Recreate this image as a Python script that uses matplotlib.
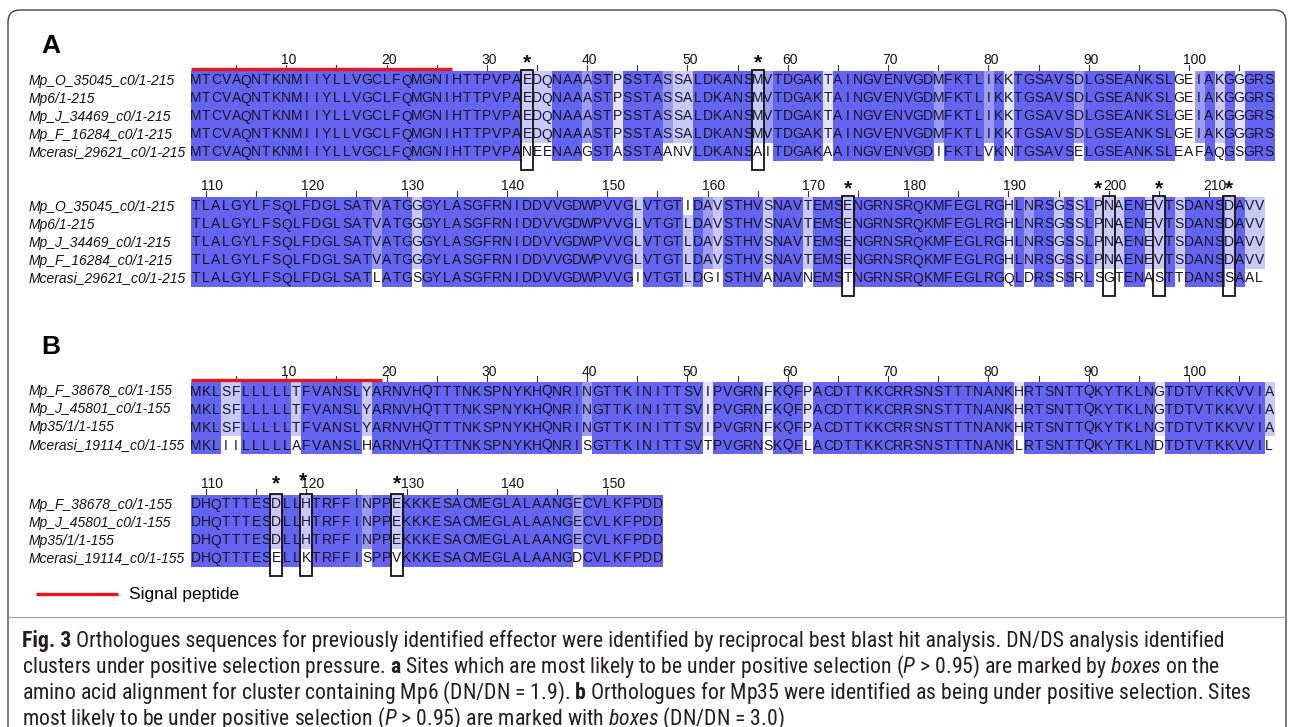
import matplotlib as mpl
mpl.use('Agg')
import matplotlib.pyplot as plt
from matplotlib import font_manager
from matplotlib.patches import FancyBboxPatch
from collections import Counter
import numpy as np

# ---------------- data ----------------
# panel A: cluster containing Mp6
a_names = ['Mp_O_35045_c0/1-215', 'Mp6/1-215', 'Mp_J_34469_c0/1-215',
           'Mp_F_16284_c0/1-215', 'Mcerasi_29621_c0/1-215']
a_block1 = 'MTCVAQNTKNMIIYLLVGCLFQMGNIHTTPVPAEDQNAAASTPSSTASSALDKANSMVTDGAKTAINGVENVGDMFKTLIKKTGSAVSDLGSEANKSLGEIAKGGGRS'
a_seqs = [
    a_block1 + 'TLALGYLFSQLFDGLSATVATGGGYLASGFRNIDDVVGDWPVVGLVTGTIDAVSTHVSNAVTEMSENGRNSRQKMFEGLRGHLNRSGSSLPNAENEVTSDANSDAVV',
    a_block1 + 'TLALGYLFSQLFDGLSATVATGGGYLASGFRNIDDVVGDWPVVGLVTGTLDAVSTHVSNAVTEMSENGRNSRQKMFEGLRGHLNRSGSSLPNAENEVTSDANSDAVV',
    a_block1 + 'TLALGYLFSQLFDGLSATVATGGGYLASGFRNIDDVVGDWPVVGLVTGTLDAVSTHVSNAVTEMSENGRNSRQKMFEGLRGHLNRSGSSLPNAENEVTSDANSDAVV',
    a_block1 + 'TLALGYLFSQLFDGLSATVATGGGYLASGFRNIDDVVGDWPVVGLVTGTLDAVSTHVSNAVTEMSENGRNSRQKMFEGLRGHLNRSGSSLPNAENEVTSDANSDAVV',
    'MTCVAQNTKNMIIYLLVGCLFQMGNIHTTPVPANEENAAGSTASSTAANVLDKANSAITDGAKAAINGVENVGDIFKTLVKNTGSAVSELGSEANKSLEAFAQGSGRS'
    'TLALGYLFSQLFDGLSATLATGSGYLASGFRNIDDVVGDWPVVGIVTGTLDGISTHVANAVNEMSTNGRNSRQKMFEGLRGQLDRSSSRLSGTENASTTDANSSAAL',
]
a_blocks = [(1, 108), (109, 215)]
a_sites = [34, 57, 174, 200, 205, 212]
a_signal = 26
# identity shading of partly conserved columns (m medium, l light, v very light, w white)
a_shade = {34: 'l', 35: 'l', 36: 'l', 40: 'm', 43: 'v', 48: 'm', 49: 'l', 50: 'l',
           57: 'l', 58: 'm', 64: 'v', 75: 'm', 80: 'm', 82: 'v', 89: 'm', 99: 'w',
           100: 'w', 101: 'm', 103: 'l', 105: 'v',
           127: 'm', 131: 'l', 153: 'l', 158: 'l', 160: 'm', 161: 'l', 166: 'l',
           170: 'l', 174: 'l', 190: 'v', 192: 'm', 195: 'l', 197: 'l', 199: 'l',
           200: 'l', 201: 'l', 204: 'l', 205: 'l', 207: 'l', 212: 'l', 214: 'l', 215: 'l'}

# panel B: Mp35 orthologues
b_names = ['Mp_F_38678_c0/1-155', 'Mp_J_45801_c0/1-155', 'Mp35/1/1-155',
           'Mcerasi_19114_c0/1-155']
b_main = ('MKLSFLLLLLTFVANSLYARNVHQTTTNKSPNYKHQNRINGTTKINITTSVIPVGRNFKQFPACDTTKKCRRSNSTTTNANKHRTSNTTQKYTKLNGTDTVTKKVVIA'
          'DHQTTTESDLLHTRFFINPPEKKKESACMEGLALAANGECVLKFPDD')
b_seqs = [b_main, b_main, b_main,
          'MKLIILLLLLAFVANSLHARNVHQTTTNKSPNYKHQNRISGTTKINITTSVTPVGRNSKQFLACDTTKKCRRSNSTTTNANKLRTSNTTQKYTKLNDTDTVTKKVVIL'
          'DHQTTTESELLKTRFFISPPVKKKESACMEGLALAANGDCVLKFPDD']
b_blocks = [(1, 108), (109, 155)]
b_sites = [117, 120, 129]
b_signal = 19
b_shade = {4: 'l', 5: 'l', 11: 'l', 18: 'l', 40: 'm', 52: 'v', 58: 'v', 62: 'v',
           83: 'v', 97: 'v', 108: 'l', 117: 'l', 120: 'l', 126: 'm', 129: 'l', 147: 'm'}

caption_head = 'Fig. 3'
caption = [
    r'Orthologues sequences for previously identified effector were identified by reciprocal best blast hit analysis. DN/DS analysis identified',
    r'clusters under positive selection pressure. $\mathbf{a}$ Sites which are most likely to be under positive selection ($\mathit{P}$ > 0.95) are marked by $\mathit{boxes}$ on the',
    r'amino acid alignment for cluster containing Mp6 (DN/DN = 1.9). $\mathbf{b}$ Orthologues for Mp35 were identified as being under positive selection. Sites',
    r'most likely to be under positive selection ($\mathit{P}$ > 0.95) are marked with $\mathit{boxes}$ (DN/DN = 3.0)',
]

# ---------------- style ----------------
SHADES = {'h': '#6464f0', 'm': '#9b9bf4', 'l': '#c9c9f7', 'v': '#e2e2f8', 'w': '#ffffff'}
X0 = 191.0     # left edge of the alignment
CW = 10.03     # column width in px
RH = 18.0      # row height in px
SANS = 'Liberation Sans'


def pick_font(names):
    for n in names:
        try:
            font_manager.findfont(n, fallback_to_default=False)
            return n
        except ValueError:
            pass
    return 'DejaVu Sans'


def draw_panel(ax, letter, letter_y, names, seqs, blocks, tops, shade, sites, signal,
               star_nudge, star_dy):
    n = len(seqs)
    ax.text(41, letter_y, letter, fontsize=19, fontweight='bold', family=SANS,
            ha='left', va='center')
    for (start, end), top in zip(blocks, tops):
        ncol = end - start + 1
        rgb = np.ones((n, ncol, 3))
        for j, c in enumerate(range(start, end + 1)):
            col = [s[c - 1] for s in seqs]
            cons, cnt = Counter(col).most_common(1)[0]
            level = 'h' if cnt == n else shade.get(c, 'l')
            for i in range(n):
                if col[i] == cons:
                    rgb[i, j] = mpl.colors.to_rgb(SHADES[level])
        right = X0 + ncol * CW
        ax.imshow(rgb, extent=(X0, right, top + n * RH, top), interpolation='nearest',
                  aspect='auto', zorder=1)
        for i in range(n):
            yc = top + (i + 0.5) * RH
            ax.text(29, yc + 0.5, names[i], fontsize=10, style='italic', family=SANS,
                    ha='left', va='center', color='#111111')
            for j in range(ncol):
                ax.text(X0 + (j + 0.5) * CW, yc + 0.5, seqs[i][start - 1 + j], fontsize=10,
                        family=SANS, ha='center', va='center', color='#15152a', zorder=3)
        # ruler
        for p in range(start, end):
            if p % 5:
                continue
            xc = X0 + (p - start + 0.5) * CW
            ax.plot([xc, xc], [top - 6, top - 1], color='#333333', lw=0.8, zorder=2)
            if p % 10 == 0:
                ax.text(xc - 5.5, top - 6.5, str(p), fontsize=10, family=SANS,
                        ha='left', va='baseline', color='#111111')
        if start == 1:
            ax.plot([X0, X0 + signal * CW], [top - 2, top - 2], color='#e8141c',
                    lw=2.4, solid_capstyle='butt', zorder=4)
        for p in sites:
            if start <= p <= end:
                xl = X0 + (p - start) * CW
                ax.add_patch(plt.Rectangle((xl - 1, top - 1), CW + 2, n * RH + 10,
                                           fill=False, ec='#111111', lw=1.3, zorder=5))
                dx, dy = star_nudge.get(p, (0, 0))
                ax.text(xl + CW / 2 + dx, top + star_dy + dy, '*', fontsize=15,
                        fontweight='bold', family=SANS, ha='center', va='baseline',
                        color='#111111')


fig = plt.figure(figsize=(12.92, 7.27), dpi=100)
ax = fig.add_axes([0, 0, 1, 1])
ax.set_xlim(0, 1292)
ax.set_ylim(727, 0)
ax.axis('off')

# outer frame and caption rule
ax.add_patch(FancyBboxPatch((8, 10), 1278, 760, boxstyle='round,pad=0,rounding_size=12',
                            fill=False, ec='#444444', lw=1.0, zorder=0))
ax.plot([8, 1286], [617, 617], color='#999999', lw=0.8)

draw_panel(ax, 'A', 46, a_names, a_seqs, a_blocks, [71, 197], a_shade, a_sites,
           a_signal, {200: (-11, 0)}, -3)
draw_panel(ax, 'B', 347, b_names, b_seqs, b_blocks, [382, 495], b_shade, b_sites,
           b_signal, {120: (-3, -3)}, -6)

# legend
ax.plot([36, 118], [594, 594], color='#e8141c', lw=2.4, solid_capstyle='butt')
ax.text(129, 594, 'Signal peptide', fontsize=12.5, family=SANS, ha='left', va='center')

# caption, scaled so the first line spans the frame
cap_font = pick_font(['Liberation Sans Narrow', 'Roboto Condensed', 'Liberation Sans'])
plt.rcParams['mathtext.fontset'] = 'custom'
plt.rcParams['mathtext.rm'] = cap_font
plt.rcParams['mathtext.it'] = cap_font + ':italic'
plt.rcParams['mathtext.bf'] = cap_font + ':bold'
renderer = fig.canvas.get_renderer()


def text_width(s, size, **kw):
    t = ax.text(0, 0, s, fontsize=size, family=cap_font, **kw)
    wd = t.get_window_extent(renderer).width
    t.remove()
    return wd


head_w = text_width(caption_head, 12, fontweight='bold')
gap_w = text_width('a a', 12) - text_width('aa', 12)
cap_size = 12 * 1207 / (head_w + gap_w + text_width(caption[0], 12))
scale = cap_size / 12
ax.text(22, 641, caption_head, fontsize=cap_size, family=cap_font, fontweight='bold',
        ha='left', va='center', color='#231f20')
ax.text(22 + (head_w + gap_w) * scale, 641, caption[0], fontsize=cap_size, family=cap_font,
        ha='left', va='center', color='#231f20')
for k, line in enumerate(caption[1:], start=1):
    ax.text(22, 641 + 25.8 * k, line, fontsize=cap_size, family=cap_font, ha='left',
            va='center', color='#231f20')

fig.savefig('out.png', dpi=100)
plt.close()
